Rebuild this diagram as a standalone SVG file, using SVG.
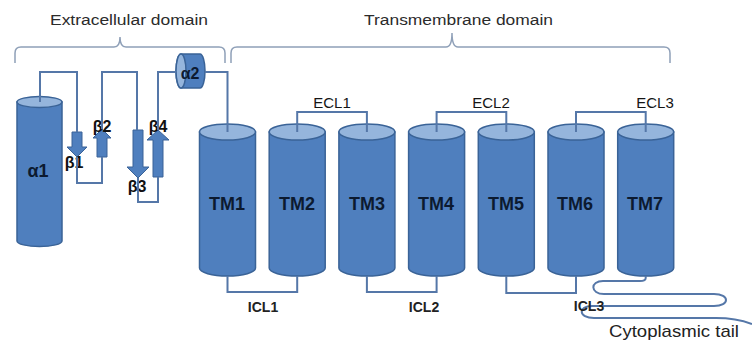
<svg xmlns="http://www.w3.org/2000/svg" width="752" height="343" viewBox="0 0 752 343">
<style>
.body{fill:#4f7fbe;stroke:#3a6397;stroke-width:1.5}
.cap{fill:#95b5dc;stroke:#3a6397;stroke-width:1.5}
.arrow{fill:#4f7fbe;stroke:#3a6397;stroke-width:1}
.con{fill:none;stroke:#5577a8;stroke-width:2;stroke-linejoin:miter}
.brace{fill:none;stroke:#8fa0b8;stroke-width:1.5}
.title{font-family:"Liberation Sans",Arial,sans-serif;font-size:15.5px;fill:#2b2b2b}
.tm{font-family:"Liberation Sans",Arial,sans-serif;font-size:18px;font-weight:bold;fill:#0c1a30;text-anchor:middle}
.beta{font-family:"Liberation Sans",Arial,sans-serif;font-size:16px;font-weight:bold;fill:#111111;text-anchor:middle}
.ecl{font-family:"Liberation Sans",Arial,sans-serif;font-size:15px;fill:#151515;text-anchor:middle}
.icl{font-family:"Liberation Sans",Arial,sans-serif;font-size:14px;font-weight:bold;fill:#222222;text-anchor:middle}
</style>
<defs>
<path id="cylBody" d="M-28,0 L-28,136 A28,8 0 0 0 28,136 L28,0 Z"/>
</defs>

<g id="domains">
<path class="brace" d="M15,63 L15,53 Q15,47 21,47 L114,47 Q120,47 120,37 Q120,47 126,47 L219,47 Q225,47 225,53 L225,63"/>
<text class="title" x="50" y="25" textLength="158" lengthAdjust="spacingAndGlyphs">Extracellular domain</text>
<path class="brace" d="M231,63 L231,53 Q231,47 237,47 L446,47 Q452,47 452,33 Q452,47 458,47 L664,47 Q670,47 670,53 L670,63"/>
<text class="title" x="364" y="25" textLength="189" lengthAdjust="spacingAndGlyphs">Transmembrane domain</text>
</g>

<g id="alpha1">
<path class="body" d="M17,102 L17,241 A22.5,5.5 0 0 0 62,241 L62,102 Z"/>
<ellipse class="cap" cx="39.5" cy="102" rx="22.5" ry="5.5"/>
<text class="tm" x="38" y="177">α1</text>
</g>

<g id="beta1">
<polygon class="arrow" points="72,132 82,132 82,147 87,147 77,157 67,147 72,147"/>
<text class="beta" x="74" y="168">β1</text>
</g>
<g id="beta2">
<polygon class="arrow" points="97,157 107,157 107,138 111,138 102,129 93,138 97,138"/>
<text class="beta" x="102" y="132">β2</text>
</g>
<g id="beta3">
<polygon class="arrow" points="133,130 143,130 143,167 149,167 138,178 127,167 133,167"/>
<text class="beta" x="137" y="192">β3</text>
</g>
<g id="beta4">
<polygon class="arrow" points="153,177 163,177 163,140 169,140 158,130 147,140 153,140"/>
<text class="beta" x="158" y="132">β4</text>
</g>

<g id="alpha2">
<path class="body" d="M181,54 L200,54 A5,17 0 0 1 200,88 L181,88 A5,17 0 0 1 181,54 Z"/>
<ellipse class="cap" cx="181" cy="71" rx="5" ry="17"/>
<text x="190" y="79" font-family="Liberation Sans, Arial, sans-serif" font-size="16" font-weight="bold" fill="#0c1a30" text-anchor="middle">α2</text>
</g>

<g id="tm1"><use href="#cylBody" class="body" x="227.5" y="132"/><ellipse class="cap" cx="227.5" cy="132" rx="28" ry="8"/><text class="tm" x="227" y="210">TM1</text></g>
<g id="tm2"><use href="#cylBody" class="body" x="297.2" y="132"/><ellipse class="cap" cx="297.2" cy="132" rx="28" ry="8"/><text class="tm" x="297" y="210">TM2</text></g>
<g id="tm3"><use href="#cylBody" class="body" x="366.9" y="132"/><ellipse class="cap" cx="366.9" cy="132" rx="28" ry="8"/><text class="tm" x="367" y="210">TM3</text></g>
<g id="tm4"><use href="#cylBody" class="body" x="436.6" y="132"/><ellipse class="cap" cx="436.6" cy="132" rx="28" ry="8"/><text class="tm" x="436" y="210">TM4</text></g>
<g id="tm5"><use href="#cylBody" class="body" x="506.3" y="132"/><ellipse class="cap" cx="506.3" cy="132" rx="28" ry="8"/><text class="tm" x="506" y="210">TM5</text></g>
<g id="tm6"><use href="#cylBody" class="body" x="576" y="132"/><ellipse class="cap" cx="576" cy="132" rx="28" ry="8"/><text class="tm" x="575" y="210">TM6</text></g>
<g id="tm7"><use href="#cylBody" class="body" x="645.7" y="132"/><ellipse class="cap" cx="645.7" cy="132" rx="28" ry="8"/><text class="tm" x="645" y="210">TM7</text></g>

<g id="connectors">
<path class="con" d="M40,102 L40,72 L77,72 L77,132"/>
<path class="con" d="M77,157 L77,183 L102,183 L102,157"/>
<path class="con" d="M102,129 L102,72 L137,72 L137,130"/>
<path class="con" d="M138,178 L138,202 L158,202 L158,177"/>
<path class="con" d="M158,130 L158,72 L176,72"/>
<path class="con" d="M205,72 L227.5,72 L227.5,132"/>
<path class="con" d="M297.2,132 L297.2,112 L366.9,112 L366.9,132"/>
<path class="con" d="M436.6,132 L436.6,112 L506.3,112 L506.3,132"/>
<path class="con" d="M576,132 L576,112 L645.7,112 L645.7,132"/>
<path class="con" d="M227.5,276 L227.5,292 L297.2,292 L297.2,276"/>
<path class="con" d="M366.9,276 L366.9,292 L436.6,292 L436.6,276"/>
<path class="con" d="M506.3,276 L506.3,293 L576,293 L576,276"/>
<path class="con" d="M645.7,276 L645.7,278 Q645.7,281 640,281 L603,281 C590,281 590,294 604,294 L714,294 C730,294 730,306 714,306 L592,306 C578,306 578,318 594,318 L716,318 C734,318 744,321 752,324"/>
<text class="ecl" x="332" y="108">ECL1</text>
<text class="ecl" x="491" y="108">ECL2</text>
<text class="ecl" x="655" y="108">ECL3</text>
<text class="icl" x="263" y="312">ICL1</text>
<text class="icl" x="424" y="312">ICL2</text>
<text class="icl" x="589" y="311">ICL3</text>
<text x="609" y="337" font-family="Liberation Sans, Arial, sans-serif" font-size="17" fill="#222222" textLength="130" lengthAdjust="spacingAndGlyphs">Cytoplasmic tail</text>
</g>
</svg>
